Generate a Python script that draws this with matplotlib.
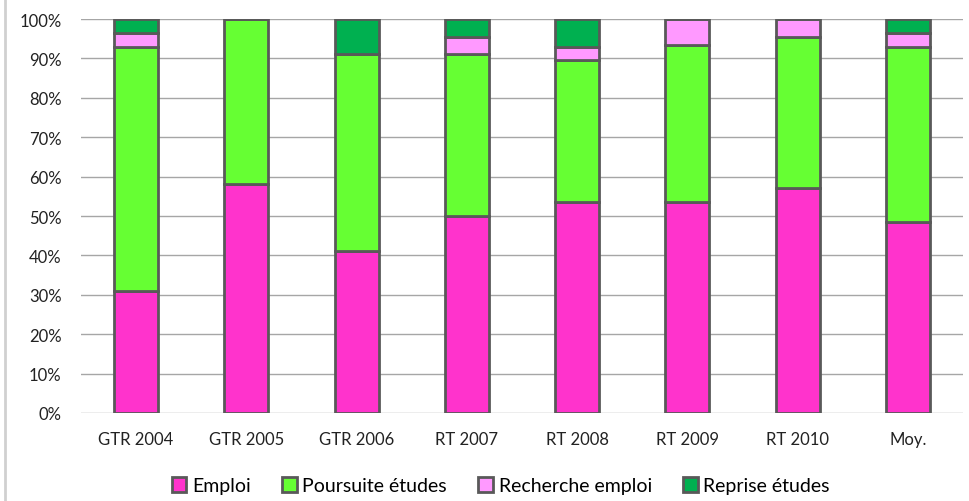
import matplotlib.pyplot as plt
import numpy as np
from matplotlib.lines import Line2D

plt.rcParams['font.family'] = ['Lato', 'DejaVu Sans']

# Données (en %)
categories = ['GTR 2004', 'GTR 2005', 'GTR 2006', 'RT 2007', 'RT 2008', 'RT 2009', 'RT 2010', 'Moy.']
emploi = [31, 58, 41, 50, 53.5, 53.5, 57, 48.5]
poursuite = [62, 42, 50, 41, 36, 40, 38.5, 44.5]
recherche = [3.5, 0, 0, 4.5, 3.5, 6.5, 4.5, 3.5]
reprise = [3.5, 0, 9, 4.5, 7, 0, 0, 3.5]

series = [
    ('Emploi', emploi, '#FF33CC'),
    ('Poursuite études', poursuite, '#66FF33'),
    ('Recherche emploi', recherche, '#FF99FF'),
    ('Reprise études', reprise, '#00B050'),
]

fig = plt.figure(figsize=(9.69, 5.02), dpi=100)
ax = fig.add_axes([81 / 969, 1 - 414 / 502, 882 / 969, 394 / 502])

x = np.arange(len(categories))
bottom = np.zeros(len(categories))
for name, vals, col in series:
    vals = np.array(vals, dtype=float)
    ax.bar(x, vals, 0.4, bottom=bottom, color=col, edgecolor='#595959',
           linewidth=2, label=name, zorder=3)
    bottom += vals

ax.set_xlim(-0.5, len(categories) - 0.5)
ax.set_ylim(0, 100)
ax.set_yticks(np.arange(0, 101, 10))
ax.set_yticklabels([f'{v}%' for v in range(0, 101, 10)])
ax.set_xticks(x)
ax.set_xticklabels(categories)
ax.tick_params(axis='y', length=0, pad=14, labelsize=12, colors='#222222')
ax.tick_params(axis='x', length=0, pad=13, labelsize=12, colors='#222222')
ax.grid(axis='y', color='#A6A6A6', linewidth=1, zorder=0)
for s in ax.spines.values():
    s.set_visible(False)

ax.legend(loc='center', bbox_to_anchor=(0.476, -0.185), ncol=4, frameon=False,
          fontsize=14, handlelength=0.75, handleheight=0.75, handletextpad=0.3,
          columnspacing=1.6, borderpad=0)

# bordure gauche de la zone graphique
fig.add_artist(Line2D([5 / 969, 5 / 969], [0, 1], color='#D0D0D0', linewidth=2))

fig.savefig('out.png', dpi=100)
